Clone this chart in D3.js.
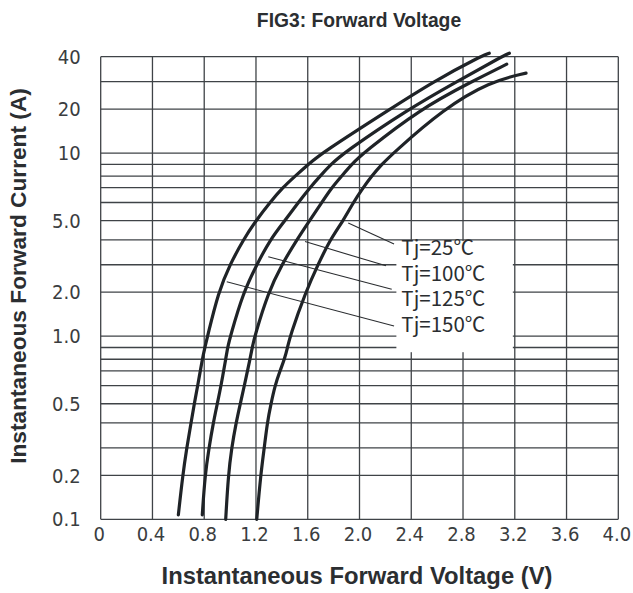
<!DOCTYPE html>
<html>
<head>
<meta charset="utf-8">
<script src="https://cdn.jsdelivr.net/npm/d3@7"></script>
<style>
  body { margin: 0; background: #fff; }
  svg { display: block; }
</style>
</head>
<body>
<svg id="chart" width="633" height="593"></svg>
<script>
// x axis, forward voltage (V)
const xTicks = [0, 0.4, 0.8, 1.2, 1.6, 2.0, 2.4, 2.8, 3.2, 3.6, 4.0];
const xTickLabels = ["0", "0.4", "0.8", "1.2", "1.6", "2.0", "2.4", "2.8", "3.2", "3.6", "4.0"];

// y axis, forward current (A): one grid line per 1..9 step of each decade
const yGrid = [0.1, 0.2, 0.3, 0.4, 0.5, 0.6, 0.7, 0.8, 0.9, 1, 2, 3, 4, 5, 6, 7, 8, 9, 10, 20, 30, 40];
const yTicks = [0.1, 0.2, 0.5, 1, 2, 5, 10, 20, 40];
const yTickLabels = ["0.1", "0.2", "0.5", "1.0", "2.0", "5.0", "10", "20", "40"];

// the printed paper is not a true log grid: where the 1..10 lines sit inside one decade
const decadeSteps = [1, 2, 3, 4, 5, 6, 7, 8, 9, 10];
const decadeSpacing = [0, 0.24, 0.39, 0.526, 0.631, 0.73, 0.811, 0.874, 0.938, 1];

// curves
const v150 = [0.600, 0.634, 0.665, 0.698, 0.723, 0.750, 0.785, 0.805, 0.826, 0.909, 0.998, 1.102, 1.200, 1.308, 1.406, 1.502, 1.604, 1.708, 2.236, 2.570, 2.931, 3.003];
const i150 = [0.11, 0.2, 0.3, 0.4, 0.5, 0.6, 0.8, 0.9, 1, 2, 3, 4, 5, 6, 7, 8, 9, 10, 20, 30, 40, 41.8];
const v125 = [0.785, 0.806, 0.837, 0.870, 0.901, 0.930, 0.966, 0.981, 1.002, 1.102, 1.206, 1.308, 1.424, 1.527, 1.617, 1.695, 1.780, 1.875, 2.377, 2.751, 3.099, 3.158];
const i125 = [0.11, 0.2, 0.3, 0.4, 0.5, 0.6, 0.8, 0.9, 1, 2, 3, 4, 5, 6, 7, 8, 9, 10, 20, 30, 40, 41.8];
const v100 = [0.966, 0.986, 1.012, 1.046, 1.079, 1.110, 1.154, 1.171, 1.190, 1.295, 1.399, 1.515, 1.614, 1.708, 1.785, 1.862, 1.940, 2.029, 2.468, 2.867, 3.138];
const i100 = [0.1, 0.2, 0.3, 0.4, 0.5, 0.6, 0.8, 0.9, 1, 2, 3, 4, 5, 6, 7, 8, 9, 10, 20, 30, 37];
const v25 = [1.206, 1.236, 1.264, 1.287, 1.316, 1.347, 1.386, 1.420, 1.444, 1.463, 1.583, 1.679, 1.772, 1.875, 1.952, 2.029, 2.094, 2.172, 2.261, 2.648, 3.008, 3.287];
const i25 = [0.1, 0.2, 0.3, 0.4, 0.5, 0.6, 0.7, 0.8, 0.9, 1, 2, 3, 4, 5, 6, 7, 8, 9, 10, 20, 30, 33.4];

// labels and their pointer lines (from near the curve to the label)
const labels = ["Tj=25℃", "Tj=100℃", "Tj=125℃", "Tj=150℃"];
const leaderFromV = [1.913, 1.579, 1.295, 0.974];
const leaderFromI = [4.87, 3.93, 3.32, 2.38];
const leaderToV = [2.267, 2.205, 2.249, 2.267];
const leaderToI = [3.83, 2.96, 2.11, 1.23];

const W = 633, H = 593;
const margin = { top: 56.7, right: 14.7, bottom: 73.7, left: 100.7 };
const innerW = W - margin.left - margin.right;
const innerH = H - margin.top - margin.bottom;

const svg = d3.select('#chart');
const g = svg.append('g').attr('transform', `translate(${margin.left},${margin.top})`);

const x = d3.scaleLinear().domain([0, 4]).range([0, innerW]);

// decades above 0.1 A, using the sheet's own spacing inside each decade
const inDecade = d3.scaleLinear().domain(decadeSteps).range(decadeSpacing);
function decades(v) {
  let e = Math.floor(Math.log10(v / 0.1) + 1e-9);
  return e + inDecade(v / (0.1 * Math.pow(10, e)));
}
const yDec = d3.scaleLinear().domain([0, decades(40)]).range([innerH, 0]);
const yDomain = yGrid.concat([50]);
const y = d3.scaleLinear().domain(yDomain).range(yDomain.map(v => yDec(decades(v))));

const gridColor = '#3f4347';

// grid
g.append('g').selectAll('line')
  .data(yGrid).enter().append('line')
  .attr('x1', 0).attr('x2', innerW)
  .attr('y1', d => y(d)).attr('y2', d => y(d))
  .attr('stroke', gridColor).attr('stroke-width', 1.3);

g.append('g').selectAll('line')
  .data(xTicks).enter().append('line')
  .attr('x1', d => x(d)).attr('x2', d => x(d))
  .attr('y1', 0).attr('y2', innerH)
  .attr('stroke', gridColor).attr('stroke-width', 1.3);

// blank patch behind the labels
g.append('rect')
  .attr('x', x(2.285)).attr('y', y(3.95))
  .attr('width', x(3.185) - x(2.285))
  .attr('height', y(0.86) - y(3.95))
  .attr('fill', '#fff');

// tick labels
const tickFont = '"Liberation Sans Narrow", "DejaVu Sans Condensed", "Noto Sans", sans-serif';
g.append('g').selectAll('text')
  .data(xTicks).enter().append('text')
  .attr('x', d => x(d) - 1.5)
  .attr('y', innerH + 22)
  .attr('text-anchor', 'middle')
  .attr('font-family', tickFont)
  .attr('font-size', 20)
  .attr('fill', '#3a3d40')
  .text((d, i) => xTickLabels[i]);

g.append('g').selectAll('text')
  .data(yTicks).enter().append('text')
  .attr('x', -20)
  .attr('y', d => y(d))
  .attr('dy', '0.36em')
  .attr('text-anchor', 'end')
  .attr('font-family', tickFont)
  .attr('font-size', 20)
  .attr('fill', '#3a3d40')
  .text((d, i) => yTickLabels[i]);

// curves (B-spline smooths out small reading errors)
const line = d3.line()
  .x(d => x(d[0]))
  .y(d => y(d[1]))
  .curve(d3.curveBasis);

const curves = [
  d3.zip(v150, i150),
  d3.zip(v125, i125),
  d3.zip(v100, i100),
  d3.zip(v25, i25)
];

g.append('g').selectAll('path')
  .data(curves).enter().append('path')
  .attr('d', line)
  .attr('fill', 'none')
  .attr('stroke', '#1f2327')
  .attr('stroke-width', 3.2)
  .attr('stroke-linecap', 'round');

// pointer lines and labels
g.append('g').selectAll('line')
  .data(labels).enter().append('line')
  .attr('x1', (d, i) => x(leaderFromV[i]))
  .attr('y1', (d, i) => y(leaderFromI[i]))
  .attr('x2', (d, i) => x(leaderToV[i]))
  .attr('y2', (d, i) => y(leaderToI[i]))
  .attr('stroke', '#2a2d30')
  .attr('stroke-width', 1.1);

g.append('g').selectAll('text')
  .data(labels).enter().append('text')
  .attr('x', x(2.285) + 5)
  .attr('y', (d, i) => 198.3 + i * 25.6)
  .attr('font-family', '"Noto Sans CJK SC", "Noto Sans", sans-serif')
  .attr('font-size', 20.5)
  .attr('fill', '#2a2d30')
  .text(d => d);

// titles
svg.append('text')
  .attr('x', 359).attr('y', 27)
  .attr('text-anchor', 'middle')
  .attr('font-family', '"Liberation Sans", Arial, sans-serif')
  .attr('font-weight', 'bold')
  .attr('font-size', 19.3)
  .attr('fill', '#2b2e31')
  .text('FIG3: Forward Voltage');

svg.append('text')
  .attr('x', 357).attr('y', 584)
  .attr('text-anchor', 'middle')
  .attr('font-family', '"Liberation Sans", Arial, sans-serif')
  .attr('font-weight', 'bold')
  .attr('font-size', 23.8)
  .attr('fill', '#2b2e31')
  .text('Instantaneous Forward Voltage (V)');

svg.append('text')
  .attr('transform', 'translate(26,276) rotate(-90)')
  .attr('text-anchor', 'middle')
  .attr('font-family', '"Liberation Sans", Arial, sans-serif')
  .attr('font-weight', 'bold')
  .attr('font-size', 22.7)
  .attr('fill', '#2b2e31')
  .text('Instantaneous Forward Current (A)');
</script>
</body>
</html>
